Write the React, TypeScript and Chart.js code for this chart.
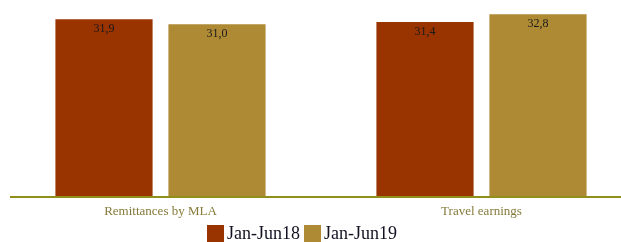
import React, { useEffect, useRef } from "react";
import { Chart, registerables } from "chart.js";

Chart.register(...registerables);

const categories = ["Remittances by MLA", "Travel earnings"];
const seriesLabels = ["Jan-Jun18", "Jan-Jun19"];
const jan18 = [31.9, 31.4];
const jan19 = [31.0, 32.8];
const colors = ["#993300", "#AF8A35"];

const SERIF = "'Liberation Serif', 'Times New Roman', serif";

const baselinePlugin = {
  id: "baseline",
  afterDatasetsDraw(chart: any) {
    const { ctx, chartArea, scales } = chart;
    const y = scales.y.getPixelForValue(0);
    ctx.save();
    ctx.strokeStyle = "#8f8f1a";
    ctx.lineWidth = 2;
    ctx.beginPath();
    ctx.moveTo(10, y + 0.5);
    ctx.lineTo(chartArea.right, y + 0.5);
    ctx.stroke();
    ctx.restore();
  },
};

const valueLabelPlugin = {
  id: "valueLabels",
  afterDatasetsDraw(chart: any) {
    const { ctx } = chart;
    ctx.save();
    ctx.font = `12px ${SERIF}`;
    ctx.fillStyle = "#1a1a1a";
    ctx.textAlign = "center";
    ctx.textBaseline = "middle";
    chart.data.datasets.forEach((ds: any, di: number) => {
      const meta = chart.getDatasetMeta(di);
      meta.data.forEach((bar: any, i: number) => {
        const v = ds.data[i];
        ctx.fillText(v.toFixed(1).replace(".", ","), bar.x, bar.y + 10);
      });
    });
    ctx.restore();
  },
};

const legendPlugin = {
  id: "customLegend",
  afterDraw(chart: any) {
    const { ctx } = chart;
    ctx.save();
    ctx.font = `18px ${SERIF}`;
    const box = 17;
    const gapText = 3;
    const gapItem = 4;
    const items = chart.data.datasets.map((ds: any) => ({
      text: ds.label,
      color: ds.backgroundColor,
      w: ctx.measureText(ds.label).width,
    }));
    let total = 0;
    items.forEach((it: any, i: number) => {
      total += box + gapText + it.w + (i < items.length - 1 ? gapItem : 0);
    });
    let x = 302 - total / 2;
    const boxTop = 225;
    items.forEach((it: any) => {
      ctx.fillStyle = it.color;
      ctx.fillRect(x, boxTop, box, box);
      ctx.fillStyle = "#111122";
      ctx.textBaseline = "alphabetic";
      ctx.textAlign = "left";
      ctx.fillText(it.text, x + box + gapText, 239);
      x += box + gapText + it.w + gapItem;
    });
    ctx.restore();
  },
};

export default function App() {
  const ref = useRef<HTMLCanvasElement | null>(null);
  useEffect(() => {
    if (!ref.current) return;
    const chart = new Chart(ref.current, {
      type: "bar",
      data: {
        labels: categories,
        datasets: [
          { label: seriesLabels[0], data: jan18, backgroundColor: colors[0] },
          { label: seriesLabels[1], data: jan19, backgroundColor: colors[1] },
        ],
      },
      options: {
        animation: false,
        responsive: false,
        maintainAspectRatio: false,
        datasets: {
          bar: { categoryPercentage: 0.704, barPercentage: 0.86 },
        },
        layout: { padding: { top: 2, bottom: 16, left: 0, right: 0 } },
        plugins: {
          legend: { display: false },
          tooltip: { enabled: false },
        },
        scales: {
          x: {
            grid: { display: false, drawTicks: false },
            border: { display: false },
            ticks: {
              padding: 7,
              color: "#857a3a",
              font: { family: SERIF, size: 13 },
              maxRotation: 0,
            },
          },
          y: {
            display: false,
            min: 0,
            max: 35,
          },
        },
      },
      plugins: [baselinePlugin, valueLabelPlugin, legendPlugin],
    });
    return () => chart.destroy();
  }, []);
  return (
    <div
      style={{
        position: "absolute",
        left: 0,
        top: 0,
        width: 621,
        height: 242,
        overflow: "hidden",
        background: "#fff",
      }}
    >
      <canvas ref={ref} width={642} height={242} style={{ display: "block" }} />
    </div>
  );
}
